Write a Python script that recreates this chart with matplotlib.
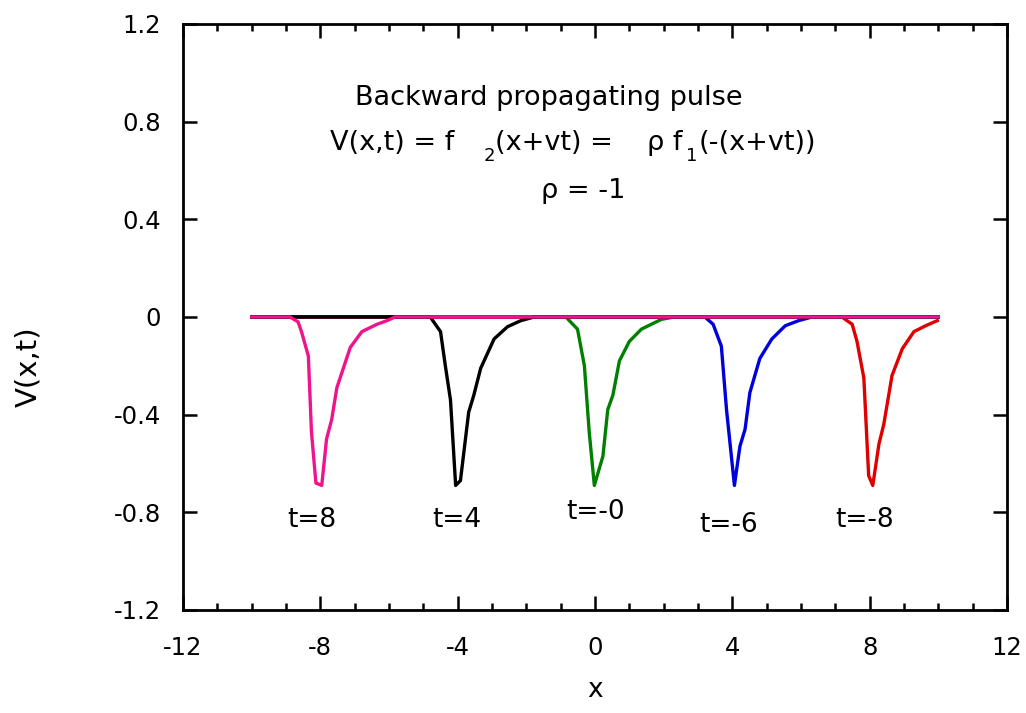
import matplotlib
matplotlib.use('Agg')
import matplotlib.pyplot as plt
from matplotlib.ticker import MultipleLocator

# ── 데이터 ──────────────────────────────────────────────
x_t8 = [-10.0, -8.89, -8.65, -8.55, -8.35, -8.26, -8.13, -7.96, -7.82, -7.67,
        -7.52, -7.13, -6.79, -6.35, -6.06, -5.82, 10.0]
v_t8 = [0.0, 0.0, -0.02, -0.06, -0.16, -0.47, -0.68, -0.69, -0.50, -0.42,
        -0.29, -0.125, -0.06, -0.03, -0.015, 0.0, 0.0]

x_t4 = [-10.0, -4.80, -4.50, -4.36, -4.21, -4.06, -3.92, -3.68, -3.53, -3.33,
        -2.94, -2.55, -2.16, -1.77, 10.0]
v_t4 = [0.0, 0.0, -0.06, -0.20, -0.34, -0.69, -0.67, -0.39, -0.32, -0.21,
        -0.09, -0.04, -0.015, 0.0, 0.0]

x_t0 = [-10.0, -0.85, -0.51, -0.31, -0.17, -0.02, 0.23, 0.37, 0.52, 0.71,
        1.00, 1.35, 1.64, 1.93, 2.31, 10.0]
v_t0 = [0.0, 0.0, -0.05, -0.20, -0.47, -0.69, -0.57, -0.38, -0.32, -0.18,
        -0.10, -0.05, -0.03, -0.01, 0.0, 0.0]

x_tm6 = [-10.0, 3.20, 3.44, 3.68, 3.83, 4.06, 4.22, 4.37, 4.51, 4.80,
         5.15, 5.54, 5.93, 6.32, 10.0]
v_tm6 = [0.0, 0.0, -0.03, -0.12, -0.38, -0.69, -0.53, -0.46, -0.31, -0.17,
         -0.09, -0.036, -0.015, 0.0, 0.0]

x_tm8 = [-10.0, 7.19, 7.49, 7.63, 7.83, 7.97, 8.09, 8.27, 8.41, 8.65,
         8.95, 9.29, 9.63, 9.97]
v_tm8 = [0.0, 0.0, -0.03, -0.10, -0.25, -0.65, -0.69, -0.52, -0.44, -0.24,
         -0.13, -0.06, -0.036, -0.015]

# 라벨 (텍스트, 위치)
t_labels = ['t=8', 't=4', 't=-0', 't=-6', 't=-8']
t_lab_x  = [-8.25, -4.04, 0.03, 3.89, 7.84]
t_lab_y  = [-0.83, -0.83, -0.80, -0.85, -0.83]

x_ticks = [-12, -8, -4, 0, 4, 8, 12]
y_ticks = [-1.2, -0.8, -0.4, 0, 0.4, 0.8, 1.2]
y_tick_labels = ['-1.2', '-0.8', '-0.4', '0', '0.4', '0.8', '1.2']

# ── 그림 ────────────────────────────────────────────────
fig = plt.figure(figsize=(10.26, 7.13), dpi=100, facecolor='white')
ax = fig.add_axes([0.1784, 0.1445, 0.8031, 0.8219])

lw = 2.4
ax.plot(x_t0,  v_t0,  color='#008000', lw=lw)
ax.plot(x_tm6, v_tm6, color='#0000DD', lw=lw)
ax.plot(x_tm8, v_tm8, color='#E00000', lw=lw)
ax.plot(x_t4,  v_t4,  color='black',   lw=lw)
ax.plot(x_t8,  v_t8,  color='#F0148C', lw=lw)

for s, xx, yy in zip(t_labels, t_lab_x, t_lab_y):
    ax.text(xx, yy, s, ha='center', va='center', fontsize=19)

# 제목 텍스트
fs = 19.5
ax.text(-6.99, 0.87, 'Backward propagating pulse', fontsize=fs, va='baseline')
ax.text(-7.72, 0.684, 'V(x,t) = f', fontsize=fs, va='baseline')
ax.text(-3.24, 0.638, '2', fontsize=13, va='baseline')
ax.text(-2.92, 0.684, '(x+vt) =', fontsize=fs, va='baseline')
ax.text(1.52, 0.684, 'ρ f', fontsize=fs, va='baseline')
ax.text(2.66, 0.638, '1', fontsize=13, va='baseline')
ax.text(3.02, 0.684, '(-(x+vt))', fontsize=fs, va='baseline')
ax.text(-1.58, 0.486, 'ρ = -1', fontsize=fs, va='baseline')

ax.set_xlim(-12, 12)
ax.set_ylim(-1.2, 1.2)
ax.set_xticks(x_ticks)
ax.set_xticklabels([str(v) for v in x_ticks], fontsize=17.5)
ax.xaxis.set_minor_locator(MultipleLocator(1))
ax.set_yticks(y_ticks)
ax.set_yticklabels(y_tick_labels, fontsize=17.5)
ax.tick_params(which='both', direction='in', top=True, right=True, width=1.8)
ax.tick_params(which='major', length=10)
ax.tick_params(which='minor', length=5)
ax.tick_params(axis='y', pad=16)
ax.tick_params(axis='x', pad=19)
for sp in ax.spines.values():
    sp.set_linewidth(2)

ax.set_xlabel('x', fontsize=19)
ax.xaxis.set_label_coords(0.5, -0.115)
ax.set_ylabel('V(x,t)', fontsize=21)
ax.yaxis.set_label_coords(-0.171, 0.416)

fig.savefig('out.png', dpi=100, facecolor='white')
